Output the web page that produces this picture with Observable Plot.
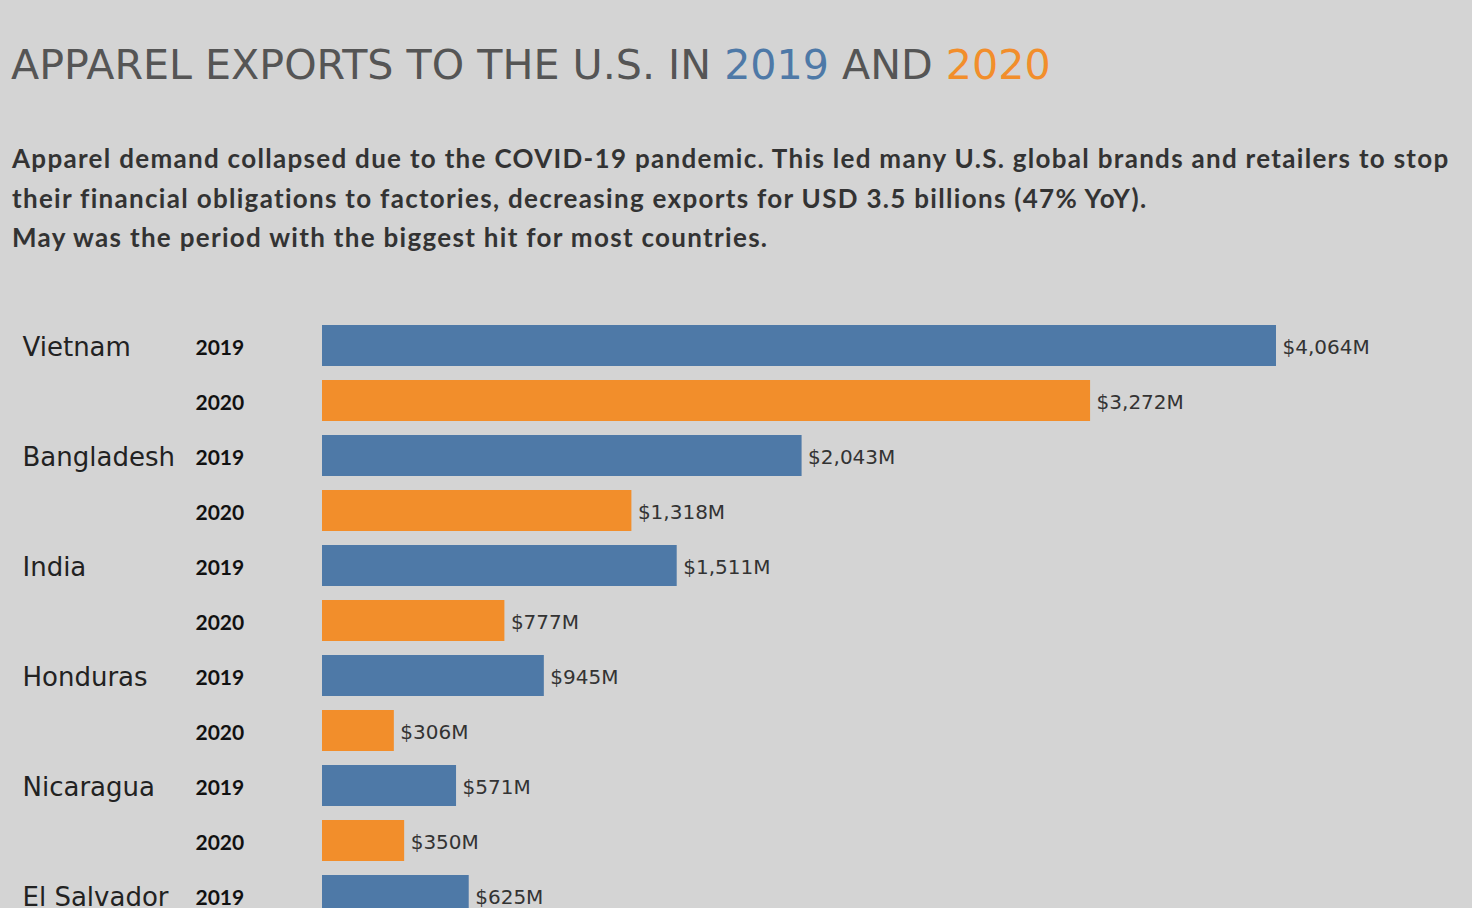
<!DOCTYPE html>
<html>
<head>
<meta charset="utf-8">
<script src="https://cdn.jsdelivr.net/npm/d3@7"></script>
<script src="https://cdn.jsdelivr.net/npm/@observablehq/plot@0.6"></script>
<style>
  html, body { margin: 0; padding: 0; background: #d4d4d4; overflow: hidden; width: 1472px; height: 908px; }
  #header { position: relative; height: 280px; }
  #title { position: absolute; left: 11px; top: 45px; font-family: "DejaVu Sans", sans-serif; font-size: 41.2px; line-height: 41px; color: #555; white-space: nowrap; }
  #subtitle { position: absolute; left: 12px; top: 139px; font-family: Lato, sans-serif; font-weight: 700; font-size: 26px; line-height: 39.5px; letter-spacing: 1.3px; color: #333; white-space: nowrap; }
  #chart svg { display: block; background: transparent; }
</style>
</head>
<body>
<div id="header">
  <div id="title">APPAREL EXPORTS TO THE U.S. IN <span style="color:#4e79a7">2019</span> AND <span style="color:#f28e2b">2020</span></div>
  <div id="subtitle">Apparel demand collapsed due to the COVID-19 pandemic. This led many U.S. global brands and retailers to stop<br>their financial obligations to factories, decreasing exports for USD 3.5 billions (47% YoY).<br>May was the period with the biggest hit for most countries.</div>
</div>
<div id="chart"></div>
<script>
const countries = ["Vietnam", "Bangladesh", "India", "Honduras", "Nicaragua", "El Salvador"];
const years = ["2019", "2020"];
const exports2019 = [4064, 2043, 1511, 945, 571, 625];
const exports2020 = [3272, 1318, 777, 306, 350, null];
const yearColors = ["#4e79a7", "#f28e2b"];

const rows = [];
countries.forEach((c, i) => {
  [exports2019[i], exports2020[i]].forEach((v, j) => {
    if (v != null) rows.push({country: c, year: years[j], value: v, key: c + "|" + years[j]});
  });
});

const chart = Plot.plot({
  width: 1472,
  height: 660,
  marginLeft: 0,
  marginRight: 0,
  marginTop: 0,
  marginBottom: 0,
  style: {background: "transparent"},
  x: {domain: [0, 4064], range: [322, 1276], axis: null},
  y: {domain: rows.map(d => d.key), range: [31, 650], padding: 0.2545, axis: null},
  color: {domain: years, range: yearColors},
  marks: [
    Plot.barX(rows, {x: "value", y: "key", fill: "year"}),
    Plot.text(rows, {x: "value", y: "key", text: d => "$" + d3.format(",")(d.value) + "M",
      textAnchor: "start", dx: 6, dy: 2, fontSize: 20, fill: "#333", fontFamily: "DejaVu Sans"}),
    Plot.text(rows, {y: "key", text: "year", frameAnchor: "left", textAnchor: "start", dx: 195, dy: 2,
      fontSize: 21, fontWeight: 700, fill: "#111", fontFamily: "Lato"}),
    Plot.text(rows.filter(d => d.year === "2019"), {y: "key", text: "country", frameAnchor: "left", textAnchor: "start", dx: 22, dy: 2,
      fontSize: 26, fill: "#222", fontFamily: "DejaVu Sans"})
  ]
});
document.getElementById("chart").appendChild(chart);
</script>
</body>
</html>
